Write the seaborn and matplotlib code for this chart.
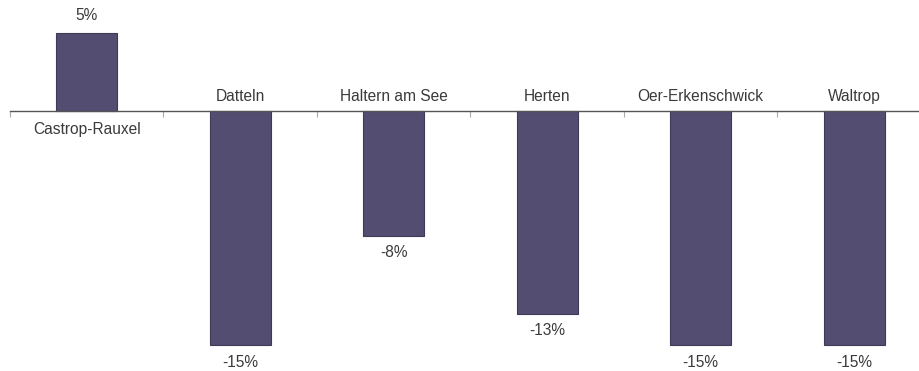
import matplotlib
matplotlib.use("Agg")
import matplotlib.pyplot as plt
import seaborn as sns
import pandas as pd

cities = ["Castrop-Rauxel", "Datteln", "Haltern am See", "Herten", "Oer-Erkenschwick", "Waltrop"]
change_pct = [5, -15, -8, -13, -15, -15]
value_labels = ["5%", "-15%", "-8%", "-13%", "-15%", "-15%"]

sns.set_theme(style="white")
plt.rcParams["font.family"] = ["Liberation Sans", "DejaVu Sans"]

df = pd.DataFrame({"city": cities, "change": change_pct})

fig = plt.figure(figsize=(9.19, 3.71), dpi=100)
ax = fig.add_axes([10 / 919, 0, 921 / 919, 1])

sns.barplot(data=df, x="city", y="change", color="#534d72", width=0.4,
            edgecolor="#3f3a55", linewidth=0.8, saturation=1, ax=ax)

ax.set_ylim(-16.67, 7.115)
ax.set_xlim(-0.5, len(cities) - 0.5)

for s in ["top", "right", "left"]:
    ax.spines[s].set_visible(False)
ax.spines["bottom"].set_position(("data", 0))
ax.spines["bottom"].set_color("#555555")
ax.spines["bottom"].set_linewidth(1.0)
ax.set_yticks([])
ax.set_xticks([i - 0.5 for i in range(len(cities) + 1)])
ax.set_xticklabels([])
ax.tick_params(axis="x", direction="out", length=4, width=0.8, color="#aaaaaa", bottom=True)
ax.set_xlabel("")
ax.set_ylabel("")

txt = "#3a3a3a"
fs = 11.2
for i, (name, val, lab) in enumerate(zip(cities, change_pct, value_labels)):
    if val >= 0:
        ax.annotate(lab, (i, val), xytext=(0, 7), textcoords="offset points",
                    ha="center", va="bottom", fontsize=fs, color=txt)
        ax.annotate(name, (i, 0), xytext=(0, -8), textcoords="offset points",
                    ha="center", va="top", fontsize=fs, color=txt)
    else:
        ax.annotate(lab, (i, val), xytext=(0, -7), textcoords="offset points",
                    ha="center", va="top", fontsize=fs, color=txt)
        ax.annotate(name, (i, 0), xytext=(0, 5), textcoords="offset points",
                    ha="center", va="bottom", fontsize=fs, color=txt)

fig.savefig("out.png", dpi=100)
